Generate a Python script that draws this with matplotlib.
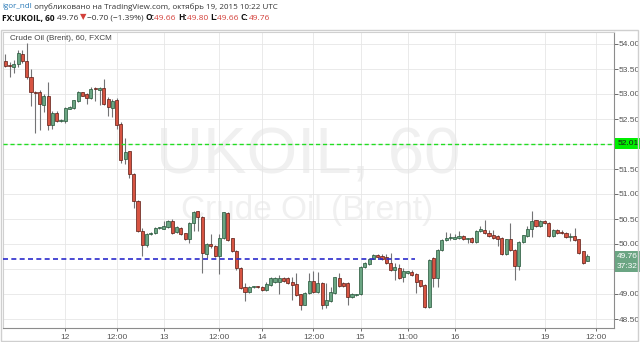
import matplotlib
matplotlib.use('Agg')
import matplotlib.pyplot as plt
import matplotlib.transforms as mtransforms
from matplotlib.patches import Rectangle
import numpy as np

# hourly candles FX:UKOIL, Oct 9 -> Oct 19 2015
opens = [53.66, 53.58, 53.54, 53.60, 53.81, 53.66, 53.34, 53.04, 53.04, 52.79,
         52.95, 52.39, 52.62, 52.47, 52.47, 52.71, 52.73, 52.87, 53.04, 52.99,
         52.93, 53.11, 53.09, 53.12, 52.91, 52.72, 52.89, 52.39, 51.70, 51.85,
         51.41, 50.86, 50.26, 49.99, 50.20, 50.22, 50.32, 50.31, 50.34, 50.46,
         50.24, 50.32, 50.22, 50.11, 50.42, 50.65, 50.55, 49.81, 49.99, 49.96,
         49.77, 50.12, 50.62, 50.11, 49.87, 49.53, 49.14, 49.05, 49.14, 49.15,
         49.15, 49.08, 49.19, 49.25, 49.25, 49.32, 49.31, 49.25, 49.20, 48.99,
         48.79, 49.02, 49.25, 49.05, 49.22, 48.78, 48.86, 49.02, 49.33, 49.22,
         49.22, 48.95, 48.99, 49.00, 49.55, 49.60, 49.71, 49.79, 49.77, 49.74,
         49.62, 49.49, 49.52, 49.35, 49.43, 49.44, 49.40, 49.27, 49.18, 48.75,
         49.72, 49.32, 49.88, 50.08, 50.12, 50.11, 50.12, 50.16, 50.10, 50.12,
         50.04, 50.26, 50.29, 50.22, 50.19, 50.16, 50.12, 49.81, 50.10, 49.89,
         49.57, 50.04, 50.17, 50.30, 50.47, 50.37, 50.46, 50.42, 50.17, 50.29,
         50.24, 50.22, 50.15, 50.16, 50.09, 49.85, 49.66]
highs = [53.81, 53.64, 53.68, 53.88, 53.88, 54.03, 53.50, 53.07, 53.09, 53.01,
         53.24, 52.67, 52.67, 52.50, 52.74, 52.76, 52.89, 53.07, 53.05, 53.02,
         53.14, 53.14, 53.15, 53.30, 52.94, 52.91, 52.93, 52.45, 52.13, 51.87,
         51.43, 50.88, 50.32, 50.23, 50.25, 50.34, 50.35, 50.46, 50.49, 50.50,
         50.36, 50.34, 50.23, 50.44, 50.67, 50.66, 50.57, 50.02, 50.20, 49.98,
         50.20, 50.65, 50.65, 50.13, 49.89, 49.55, 49.22, 49.16, 49.16, 49.17,
         49.17, 49.25, 49.35, 49.34, 49.39, 49.34, 49.35, 49.35, 49.42, 49.01,
         49.04, 49.42, 49.47, 49.45, 49.24, 49.22, 49.15, 49.35, 49.42, 49.24,
         49.24, 49.02, 49.01, 49.57, 49.64, 49.73, 49.80, 49.81, 49.80, 49.80,
         49.82, 49.62, 49.59, 49.53, 49.47, 49.49, 49.42, 49.29, 49.20, 49.71,
         49.74, 49.90, 50.10, 50.24, 50.22, 50.21, 50.27, 50.18, 50.12, 50.14,
         50.28, 50.36, 50.48, 50.29, 50.29, 50.18, 50.14, 50.11, 50.42, 49.91,
         50.06, 50.19, 50.37, 50.66, 50.49, 50.48, 50.49, 50.44, 50.31, 50.31,
         50.29, 50.24, 50.22, 50.32, 50.11, 49.87, 49.80]
lows = [53.54, 53.34, 53.42, 53.54, 53.62, 53.30, 52.77, 52.22, 52.29, 52.64,
        52.29, 52.31, 52.44, 52.45, 52.43, 52.70, 52.71, 52.84, 52.96, 52.81,
        52.91, 52.87, 52.79, 52.79, 52.57, 52.54, 52.31, 51.63, 51.61, 51.33,
        50.73, 50.24, 49.77, 49.95, 50.18, 50.20, 50.30, 50.30, 50.32, 50.20,
        50.22, 50.18, 50.09, 50.02, 50.26, 50.26, 49.42, 49.72, 49.93, 49.75,
        49.40, 50.10, 50.07, 49.85, 49.49, 49.11, 48.86, 49.03, 49.13, 49.12,
        49.06, 49.06, 49.17, 49.22, 49.00, 49.25, 49.20, 48.88, 48.97, 48.68,
        48.77, 49.00, 49.03, 49.03, 48.70, 48.73, 48.84, 49.00, 49.15, 49.15,
        48.78, 48.93, 48.97, 48.98, 49.53, 49.58, 49.70, 49.74, 49.68, 49.60,
        49.47, 49.29, 49.31, 49.25, 49.41, 49.37, 49.02, 49.15, 48.72, 48.73,
        49.15, 49.15, 49.86, 50.06, 50.09, 50.10, 50.11, 50.09, 50.02, 50.02,
        50.02, 50.25, 50.20, 50.15, 50.10, 49.97, 49.79, 49.79, 49.86, 49.29,
        49.49, 50.02, 50.15, 50.14, 50.35, 50.35, 50.40, 50.15, 50.15, 50.20,
        50.21, 50.12, 50.06, 50.07, 49.81, 49.59, 49.66]
closes = [53.56, 53.57, 53.60, 53.81, 53.66, 53.34, 53.04, 53.03, 52.81, 52.95,
          52.39, 52.62, 52.46, 52.48, 52.71, 52.74, 52.87, 53.04, 52.97, 52.93,
          53.11, 53.10, 53.13, 52.81, 52.74, 52.87, 52.39, 51.68, 51.85, 51.41,
          50.86, 50.26, 49.99, 50.21, 50.22, 50.32, 50.33, 50.36, 50.46, 50.22,
          50.34, 50.20, 50.11, 50.42, 50.65, 50.55, 49.82, 50.00, 49.96, 49.77,
          50.12, 50.63, 50.09, 49.87, 49.53, 49.13, 49.04, 49.14, 49.15, 49.14,
          49.08, 49.20, 49.31, 49.32, 49.33, 49.27, 49.22, 49.18, 48.99, 48.78,
          49.02, 49.25, 49.05, 49.22, 48.78, 48.88, 49.05, 49.33, 49.17, 49.17,
          48.95, 49.00, 49.00, 49.55, 49.62, 49.71, 49.79, 49.75, 49.70, 49.62,
          49.49, 49.55, 49.33, 49.45, 49.45, 49.39, 49.24, 49.17, 48.75, 49.69,
          49.32, 49.88, 50.08, 50.12, 50.12, 50.14, 50.16, 50.10, 50.10, 50.04,
          50.26, 50.29, 50.22, 50.17, 50.12, 50.10, 49.81, 50.09, 49.88, 49.57,
          50.04, 50.17, 50.30, 50.46, 50.37, 50.46, 50.42, 50.17, 50.29, 50.22,
          50.22, 50.14, 50.15, 50.09, 49.83, 49.62, 49.76]

tick_pos = [14, 26, 37, 50, 60, 72, 83, 94, 105, 126, 138]
tick_labels = ['12', '12:00', '13', '12:00', '14', '12:00', '15', '11:00', '16', '19', '12:00']
price_ticks = [48.5, 49.0, 49.5, 50.0, 50.5, 51.0, 51.5, 52.0, 52.5, 53.0, 53.5, 54.0]
hidden_ticks = [49.5, 52.0]   # covered by the label boxes

green_level = 52.01
blue_level = 49.71
blue_end = 95.7
last_price = 49.76
countdown = '37:32'

plt.rcParams['font.family'] = ['Liberation Sans', 'DejaVu Sans']

W, H = 640, 342
fig = plt.figure(figsize=(6.4, 3.42), dpi=100)
fig.patch.set_facecolor('white')


def fx(px):
    return px / W


def fy(py):
    return 1 - py / H


ax = fig.add_axes([fx(3), fy(327.5), fx(613.5) - fx(3), fy(32) - fy(327.5)])
ax.set_xlim(-0.55, 142.1)
ax.set_ylim(48.33, 54.24)

# candles
x = np.arange(len(opens))
o = np.array(opens)
c = np.array(closes)
up = c >= o
ax.vlines(x, lows, highs, color='#737375', lw=0.8, zorder=3)
bottom = np.minimum(o, c)
height = np.maximum(np.abs(c - o), 0.015)
ax.bar(x[up], height[up], bottom=bottom[up], width=0.72, color='#6ba583',
       edgecolor='#225437', lw=0.5, zorder=4)
ax.bar(x[~up], height[~up], bottom=bottom[~up], width=0.72, color='#d75442',
       edgecolor='#5b1a13', lw=0.5, zorder=4)

# levels
ax.axhline(green_level, color='#22dd22', lw=1, dashes=(3, 2), zorder=5)
ax.plot([-0.55, blue_end], [blue_level, blue_level], color='#2b2bcc', lw=1.2,
        dashes=(3, 2), zorder=5)

# watermark
ax.text(fx(308), fy(157), 'UKOIL, 60', transform=fig.transFigure, fontsize=47,
        color='#f0f0f0', ha='center', va='center', zorder=0.2)
ax.text(fx(307), fy(210), 'Crude Oil (Brent)', transform=fig.transFigure, fontsize=24,
        color='#f0f0f0', ha='center', va='center', zorder=0.2)

# grid + axes
ax.set_axisbelow(True)
ax.grid(True, color='#e6e6e6', lw=0.6)
ax.yaxis.tick_right()
ax.set_yticks(price_ticks)
ax.set_yticklabels(['' if p in hidden_ticks else f'{p:.2f}' for p in price_ticks])
ax.set_xticks(tick_pos)
ax.set_xticklabels(tick_labels)
ax.tick_params(axis='y', labelsize=6, colors='#555555', length=3, pad=1, width=0.6)
ax.tick_params(axis='x', labelsize=6, colors='#555555', length=2, pad=3, width=0.6)
for side in ['top', 'left']:
    ax.spines[side].set_color('#d0d0d0')
for side in ['right', 'bottom']:
    ax.spines[side].set_color('#8c8c8c')

trans = mtransforms.blended_transform_factory(ax.transAxes, ax.transData)
ax.text(1.006, green_level, '52.01', transform=trans, fontsize=6, color='#1a1a1a',
        va='center', ha='left', zorder=6, clip_on=False,
        bbox=dict(boxstyle='square,pad=0.2', fc='#00ee00', ec='none'))
ax.text(1.006, last_price, '49.76', transform=trans, fontsize=6, color='white',
        va='center', ha='left', zorder=6, clip_on=False,
        bbox=dict(boxstyle='square,pad=0.2', fc='#6ba583', ec='none'))
ax.text(1.006, 49.55, countdown, transform=trans, fontsize=6, color='white',
        va='center', ha='left', zorder=6, clip_on=False,
        bbox=dict(boxstyle='square,pad=0.2', fc='#6ba583', ec='none'))

ax.text(fx(10), fy(38), 'Crude Oil (Brent), 60, FXCM', transform=fig.transFigure,
        fontsize=5.9, color='#444444', ha='left', va='center', zorder=6)

# chart pane frame
fig.add_artist(Rectangle((fx(1), fy(341)), fx(638) - fx(1), fy(30) - fy(341),
                         transform=fig.transFigure, fill=False, ec='#cfcfcf', lw=1))

# header lines, pieces chained left to right
renderer = fig.canvas.get_renderer()


def write_line(pieces, x0, y0, size):
    xp = x0
    for txt, color, weight in pieces:
        t = fig.text(fx(xp), fy(y0), txt, color=color, fontsize=size, fontweight=weight,
                     ha='left', va='center', family=['Open Sans', 'DejaVu Sans'])
        xp += t.get_window_extent(renderer=renderer).width


red = '#d3403a'
dark = '#333333'
write_line([('igor_ndl', '#2a7ab8', 'normal'),
            (' опубликовано на TradingView.com, октябрь 19, 2015 10:22 UTC', dark, 'normal')],
           2, 7, 5.8)
write_line([('FX:UKOIL, 60 ', '#111111', 'bold'),
            ('49.76 ', dark, 'normal'),
            ('▼', red, 'normal'),
            ('−0.70 (−1.39%) ', dark, 'normal'),
            ('O:', '#111111', 'bold'), ('49.66 ', red, 'normal'),
            ('H:', '#111111', 'bold'), ('49.80 ', red, 'normal'),
            ('L:', '#111111', 'bold'), ('49.66 ', red, 'normal'),
            ('C:', '#111111', 'bold'), ('49.76', red, 'normal')],
           2, 18, 6.0)

fig.savefig('out.png', dpi=100)
